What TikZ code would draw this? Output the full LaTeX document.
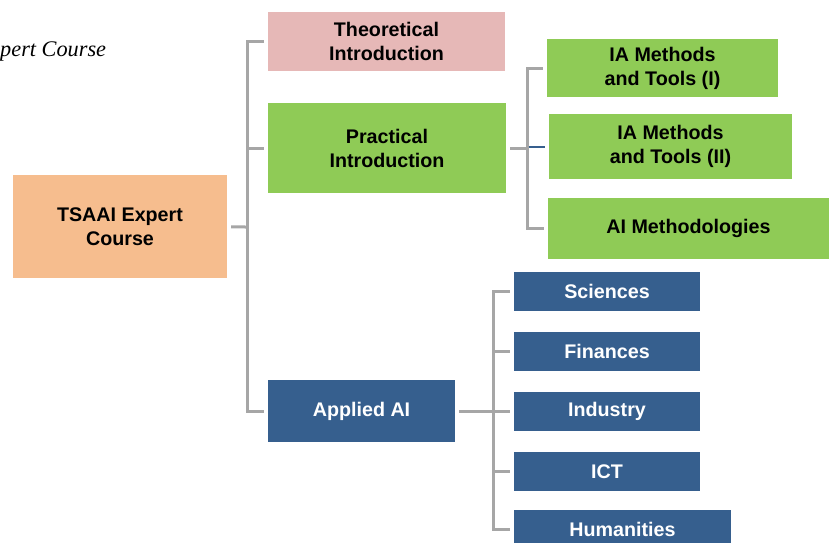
\documentclass[tikz,border=0pt]{standalone}
\usepackage{fontspec}
\setmainfont{Liberation Sans}
\newfontfamily\titlefont{Liberation Serif}
\usetikzlibrary{calc}
\definecolor{peach}{HTML}{F6BD8E}
\definecolor{rosa}{HTML}{E6B8B7}
\definecolor{verde}{HTML}{8FCB56}
\definecolor{azul}{HTML}{365F8E}
\definecolor{gris}{HTML}{A6A6A6}
\tikzset{
 box/.style={inner sep=0pt, align=center, font=\fontsize{19.7}{24}\selectfont\bfseries},
 peachbox/.style={box, fill=peach, text=black},
 rosabox/.style={box, fill=rosa, text=black},
 verdebox/.style={box, fill=verde, text=black},
 azulbox/.style={box, fill=azul, text=white},
 conn/.style={draw=gris, line width=3pt},
}
\begin{document}
\begin{tikzpicture}[x=1pt,y=-1pt]
\clip (0,0) rectangle (829,542);
\useasboundingbox (0,0) rectangle (829,542);

% title, as far as it shows
\node[anchor=west, inner sep=0pt, font=\fontsize{22.3}{24}\selectfont\titlefont\itshape] (titel) at (0,51) {pert Course};

% level 0
\node[peachbox, minimum width=214, minimum height=103] (tsaai) at (120,226.5) {TSAAI Expert\\Course};

% level 1
\node[rosabox, minimum width=237, minimum height=59] (theo) at (386.5,41.5) {Theoretical\\Introduction};
\node[verdebox, minimum width=238, minimum height=90] (prac) at (387,148) {Practical\\Introduction};
\node[azulbox, minimum width=187, minimum height=62] (appl) at (361.5,411) {Applied AI};

% level 2, practical
\node[verdebox, minimum width=231, minimum height=58] (iaI) at (662.5,68) {IA Methods\\and Tools (I)};
\node[verdebox, minimum width=243, minimum height=65] (iaII) at (670.5,146.5) {IA Methods\\and Tools (II)};
\node[verdebox, minimum width=281, minimum height=61] (aimeth) at (688.5,228.5) {AI Methodologies};

% level 2, applied
\node[azulbox, minimum width=186, minimum height=39] (sci) at (607,291.5) {Sciences};
\node[azulbox, minimum width=186, minimum height=39] (fin) at (607,351.5) {Finances};
\node[azulbox, minimum width=186, minimum height=39] (ind) at (607,411.5) {Industry};
\node[azulbox, minimum width=186, minimum height=39] (ict) at (607,471.5) {ICT};
\node[azulbox, minimum width=217, minimum height=39] (hum) at (622.5,529.5) {Humanities};

% trunks
\coordinate (tA) at (247,227);
\coordinate (tB) at (527,148);
\coordinate (tC) at (493,411);

\draw[conn, shorten <=4pt] (tsaai) -- (tA);
\draw[conn, shorten >=4pt] (tA) |- (theo.west);
\draw[conn, shorten >=4pt] (tA) |- (prac.west);
\draw[conn, shorten >=4pt] (tA) |- (appl.west);

\draw[conn, shorten <=4pt] (prac) -- (tB);
\draw[conn, shorten >=4pt] (tB) |- (iaI.west);
\draw[conn, shorten >=4pt] (tB) |- (aimeth.west);
\draw[draw=azul, line width=2pt, shorten >=4pt] ($(tB)+(1.5,-1.5)$) -- (iaII.west);

\draw[conn, shorten <=4pt] (appl) -- (tC);
\foreach \b in {sci,fin,ind,ict,hum}
 \draw[conn, shorten >=4pt] (tC) |- (\b.west);
\end{tikzpicture}
\end{document}
